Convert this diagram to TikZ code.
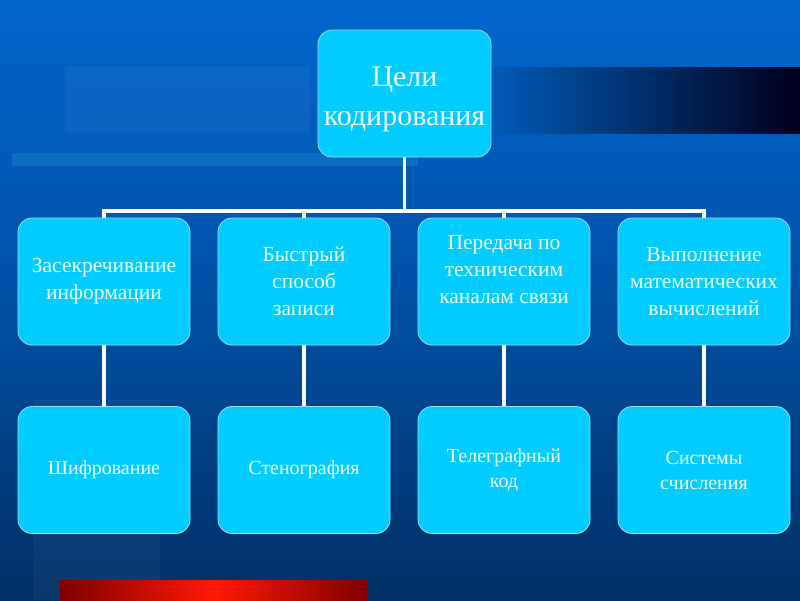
\documentclass[tikz,border=0pt]{standalone}
\usepackage{fontspec}
\setmainfont{Liberation Serif}
\usetikzlibrary{backgrounds}
\pgfdeclarelayer{bg}
\pgfsetlayers{bg,background,main}
\begin{document}
\begin{tikzpicture}[x=1pt,y=-1pt,
  box/.style={draw=cyan!40!white, line width=0.8pt, fill=boxfill, rounded corners=14pt,
    minimum width=172pt, minimum height=127pt, text=textc, align=center, inner sep=2pt,
    font=\fontsize{21.5}{27}\selectfont},
  lowbox/.style={box, font=\fontsize{20}{25}\selectfont},
  conn/.style={draw=white, line width=3.5pt}]
\definecolor{bgtop}{RGB}{0,102,204}
\definecolor{bgmid}{RGB}{0,80,165}
\definecolor{bgbot}{RGB}{0,48,100}
\definecolor{boxfill}{RGB}{0,204,255}
\definecolor{textc}{RGB}{235,255,255}
\useasboundingbox (0,0) rectangle (800,600);
% background
\begin{pgfonlayer}{bg}
\shade[top color=bgtop, bottom color=bgmid] (0,0) rectangle (800,300);
\shade[top color=bgmid, bottom color=bgbot] (0,300) rectangle (800,600);
\fill[white, opacity=0.04] (65,67) rectangle (310,133);
\shade[left color=bgtop!90!black, right color=black!90!blue] (490,67) rectangle (800,133);
\fill[cyan!60!blue, opacity=0.6] (12,153) rectangle (418,166);
\fill[white, opacity=0.04] (33,400) rectangle (160,600);
\shade[left color=red!50!black, right color=red!50!black, middle color=orange!20!red] (60,580) rectangle (367,600);
\end{pgfonlayer}
% nodes
\node[box, minimum width=173pt] (root) at (404.5,93.5) {};
\node[text=textc, align=center, font=\fontsize{30}{39}\selectfont] (roottxt) at (404.5,99) {Цели\\кодирования};
\node[box] (a1) at (104,281.5) {Засекречивание\\информации};
\node[box] (a2) at (304,281.5) {Быстрый\\способ\\записи};
\node[box] (a3) at (504,281.5) {};
\node[text=textc, align=center, font=\fontsize{21.5}{27}\selectfont] (a3txt) at (504,270) {Передача по\\техническим\\каналам связи};
\node[box] (a4) at (704,281.5) {Выполнение\\математических\\вычислений};
\node[lowbox] (b1) at (104,470) {Шифрование};
\node[lowbox] (b2) at (304,470) {Стенография};
\node[lowbox] (b3) at (504,470) {Телеграфный\\код};
\node[lowbox] (b4) at (704,470) {Системы\\счисления};
% connectors
\begin{pgfonlayer}{background}
\coordinate (h) at (404.5,211);
\draw[conn] (root.south) -- (h);
\draw[conn, line cap=rect] (a1.north) |- (h) -| (a4.north);
\draw[conn] (a2.north) -- (a2.north |- h);
\draw[conn] (a3.north) -- (a3.north |- h);
\draw[conn] (a1) -- (b1);
\draw[conn] (a2) -- (b2);
\draw[conn] (a3) -- (b3);
\draw[conn] (a4) -- (b4);
\end{pgfonlayer}
\end{tikzpicture}
\end{document}
